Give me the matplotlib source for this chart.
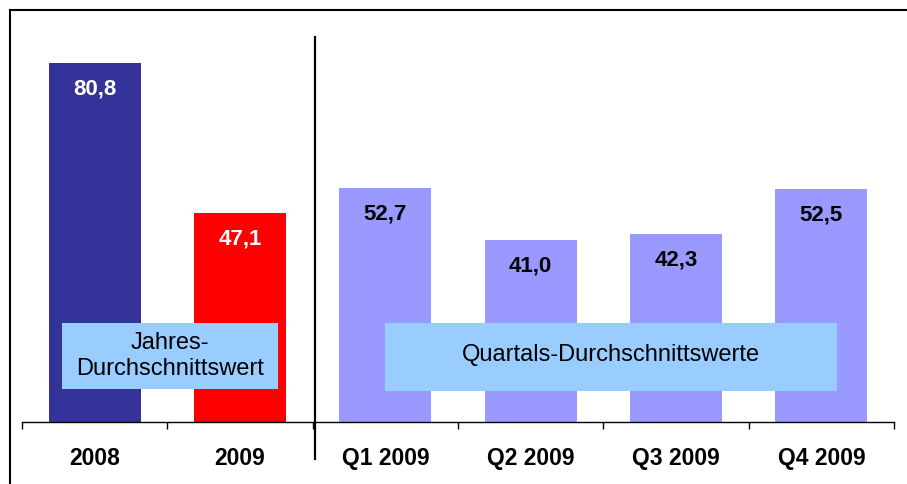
import matplotlib
matplotlib.use("Agg")
import matplotlib.pyplot as plt
import matplotlib.patches as mp
from matplotlib.lines import Line2D

plt.rcParams['font.family'] = ['Liberation Sans', 'DejaVu Sans']

# data
categories = ["2008", "2009", "Q1 2009", "Q2 2009", "Q3 2009", "Q4 2009"]
values = [80.8, 47.1, 52.7, 41.0, 42.3, 52.5]
labels = ["80,8", "47,1", "52,7", "41,0", "42,3", "52,5"]
colors = ["#333399", "#FF0000", "#9999FF", "#9999FF", "#9999FF", "#9999FF"]
label_colors = ["white", "white", "black", "black", "black", "black"]

W, H = 907, 484
fig = plt.figure(figsize=(W / 100, H / 100), dpi=100)
ax = fig.add_axes([22 / W, (H - 422) / H, 872 / W, 400 / H])

xs = list(range(len(categories)))
ax.bar(xs, values, width=0.635, color=colors, zorder=2)
ax.set_xlim(-0.5, 5.5)
ax.set_ylim(0, 90)

# value labels near the top of each bar
for x, v, lab, c in zip(xs, values, labels, label_colors):
    ax.annotate(lab, (x, v), xytext=(0, -19), textcoords="offset points",
                ha="center", va="center", fontsize=16, fontweight="bold",
                color=c, zorder=4)

# axes styling
for s in ["top", "left", "right"]:
    ax.spines[s].set_visible(False)
ax.spines["bottom"].set_linewidth(1.0)
ax.set_yticks([])
ax.set_xticks(xs)
ax.set_xticklabels(categories, fontsize=16.5, fontweight="bold")
ax.tick_params(axis="x", which="major", length=0, pad=18)
ax.set_xticks([x - 0.5 for x in xs] + [5.5], minor=True)
ax.tick_params(axis="x", which="minor", length=5, width=1.0, direction="out")

# separator between yearly and quarterly values
ax.plot([1.515, 1.515], [86.6, -8.3], color="black", lw=1.6,
        clip_on=False, zorder=5)

# info boxes
ax.add_patch(mp.Rectangle((-0.225, 7.4), 1.486, 14.9, facecolor="#99CCFF",
                          edgecolor="none", zorder=3))
ax.text(0.518, 14.85, "Jahres-\nDurchschnittswert", ha="center", va="center",
        fontsize=17, zorder=4, linespacing=1.2)
ax.add_patch(mp.Rectangle((1.998, 7.0), 3.11, 15.3, facecolor="#99CCFF",
                          edgecolor="none", zorder=3))
ax.text(3.553, 15.1, "Quartals-Durchschnittswerte", ha="center",
        va="center", fontsize=17, zorder=4)

# outer frame (top and left edge)
fig.add_artist(Line2D([10 / W, 1.0], [1 - 10 / H, 1 - 10 / H],
                      transform=fig.transFigure, color="black", lw=1.5))
fig.add_artist(Line2D([10 / W, 10 / W], [0.0, 1 - 10 / H],
                      transform=fig.transFigure, color="black", lw=1.5))

fig.savefig("out.png", dpi=100)
